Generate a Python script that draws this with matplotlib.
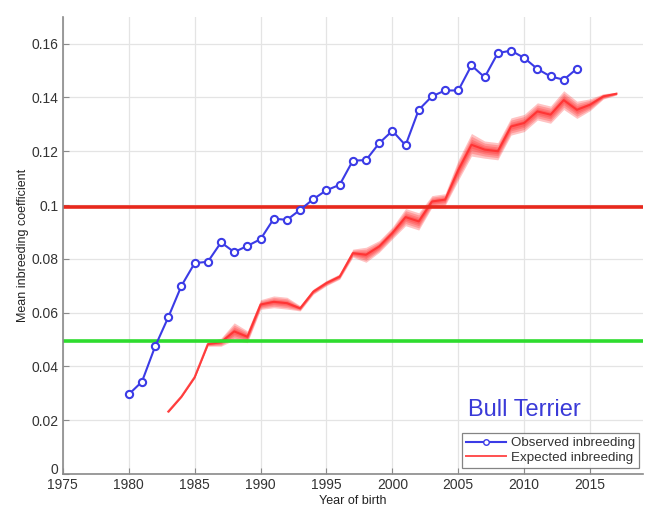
import numpy as np
import matplotlib
matplotlib.use("Agg")
import matplotlib.pyplot as plt
import matplotlib.transforms as mtransforms
from matplotlib.lines import Line2D

# observed mean inbreeding per year of birth
obs_years = list(range(1980, 2015))
obs_values = [
    0.0296, 0.0343, 0.0474, 0.0583, 0.0700, 0.0784, 0.0789, 0.0861, 0.0825, 0.0848,
    0.0873, 0.0949, 0.0945, 0.0982, 0.1022, 0.1055, 0.1075, 0.1165, 0.1167, 0.1230,
    0.1276, 0.1222, 0.1354, 0.1404, 0.1426, 0.1426, 0.1519, 0.1475, 0.1565, 0.1574,
    0.1547, 0.1506, 0.1478, 0.1466, 0.1507,
]

# expected inbreeding (centre of the simulated band) and band half width
exp_years = list(range(1983, 2018))
exp_values = [
    0.0232, 0.0288, 0.0360, 0.0483, 0.0490, 0.0530, 0.0510, 0.0630, 0.0640, 0.0635,
    0.0616, 0.0678, 0.0710, 0.0734, 0.0821, 0.0815, 0.0846, 0.0896, 0.0955, 0.0939,
    0.1013, 0.1020, 0.1130, 0.1224, 0.1206, 0.1200, 0.1292, 0.1305, 0.1348, 0.1336,
    0.1390, 0.1354, 0.1373, 0.1404, 0.1414,
]
exp_spread = [
    0.0004, 0.0004, 0.0005, 0.0008, 0.0015, 0.0032, 0.0022, 0.0018, 0.0022, 0.0022,
    0.0010, 0.0010, 0.0010, 0.0010, 0.0015, 0.0028, 0.0022, 0.0022, 0.0032, 0.0032,
    0.0022, 0.0022, 0.0038, 0.0042, 0.0032, 0.0032, 0.0032, 0.0032, 0.0032, 0.0032,
    0.0035, 0.0032, 0.0022, 0.0010, 0.0005,
]

thresholds = {"red": 0.0993, "green": 0.0495}

x_ticks = list(range(1975, 2020, 5))
y_ticks = [0, 0.02, 0.04, 0.06, 0.08, 0.1, 0.12, 0.14, 0.16]
y_labels = ["0", "0.02", "0.04", "0.06", "0.08", "0.1", "0.12", "0.14", "0.16"]

plt.rcParams["font.family"] = ["Liberation Sans", "DejaVu Sans"]

fig = plt.figure(figsize=(6.48, 5.08), dpi=100)
ax = fig.add_axes([0.097, 0.067, 0.895, 0.9])

ax.set_xlim(1975, 2019)
ax.set_ylim(0, 0.17)
ax.set_xticks(x_ticks)
ax.set_yticks(y_ticks)
ax.set_yticklabels(y_labels)
ax.grid(True, color="#e4e4e4", linewidth=0.9)
ax.set_axisbelow(True)

for side in ("top", "right"):
    ax.spines[side].set_visible(False)
for side in ("left", "bottom"):
    ax.spines[side].set_color("#8a8a8a")
    ax.spines[side].set_linewidth(1.2)
ax.tick_params(direction="in", length=4, color="#8a8a8a", labelsize=10,
               labelcolor="#333333", pad=3)

# lift the "0" label a touch so it clears the 1975 label (as in the original)
zero_lbl = ax.get_yticklabels()[0]
zero_lbl.set_transform(zero_lbl.get_transform()
                       + mtransforms.ScaledTranslation(0, 4 / 72, fig.dpi_scale_trans))

# fuzzy expected band: stacked translucent layers
ex = np.array(exp_years, float)
ev = np.array(exp_values)
es = np.array(exp_spread)
for scale in (1.0, 0.75, 0.5, 0.3):
    ax.fill_between(ex, ev - es * scale, ev + es * scale, color="#ff2a2a",
                    alpha=0.28, linewidth=0)
ax.plot(ex, ev, color="#ff3030", linewidth=1.5, alpha=0.9)

ax.axhline(thresholds["red"], color="#e8281c", linewidth=2.6)
ax.axhline(thresholds["green"], color="#2edc2e", linewidth=2.6)

ax.plot(obs_years, obs_values, color="#3b3be6", linewidth=1.5, marker="o",
        markersize=5.2, markerfacecolor="white", markeredgecolor="#3b3be6",
        markeredgewidth=1.5)

ax.text(2010.0, 0.0216, "Bull Terrier", color="#3a3ad8", fontsize=17,
        ha="center", va="baseline")

handles = [
    Line2D([], [], color="#3b3be6", linewidth=1.5, marker="o", markersize=4,
           markerfacecolor="white", markeredgecolor="#3b3be6"),
    Line2D([], [], color="#ff5050", linewidth=1.4),
]
leg = ax.legend(handles, ["Observed inbreeding", "Expected inbreeding"],
                loc="lower right", bbox_to_anchor=(0.994, 0.014), fontsize=9.6,
                frameon=True, fancybox=False, borderpad=0.3, labelspacing=0.15,
                handlelength=3.0, handletextpad=0.4, borderaxespad=0)
leg.get_frame().set_edgecolor("#666666")
leg.get_frame().set_linewidth(0.9)
for t in leg.get_texts():
    t.set_color("#333333")

ax.set_xlabel("Year of birth", fontsize=9, color="#222222", labelpad=2)
ax.set_ylabel("Mean inbreeding coefficient", fontsize=9, color="#222222", labelpad=2)

fig.savefig("out.png", dpi=100)
